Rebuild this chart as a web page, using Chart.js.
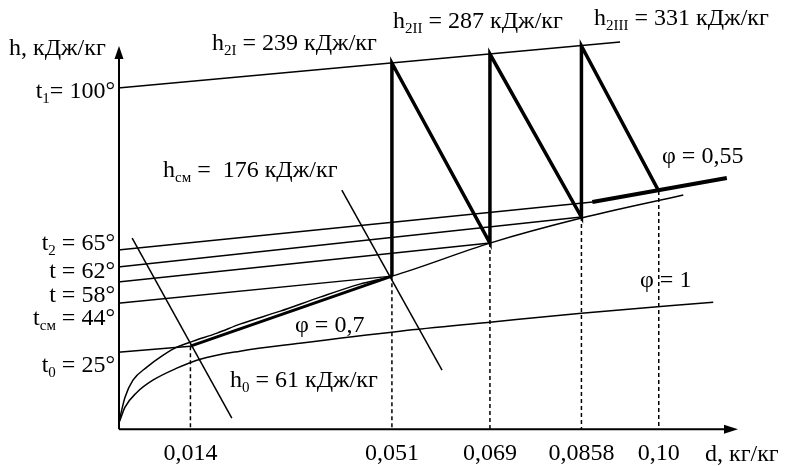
<!DOCTYPE html>
<html>
<head>
<meta charset="utf-8">
<script src="https://cdn.jsdelivr.net/npm/chart.js@4"></script>
<style>
  html, body { margin: 0; padding: 0; background: #fff; }
  #wrap { width: 786px; height: 466px; }
</style>
</head>
<body>
<div id="wrap"><canvas id="hd" width="786" height="466"></canvas></div>
<script>
// d axis (kg/kg), h in the sketch's own (unscaled) units
const dMin = 0.0007;
const dMax = 0.114;
const hMax = 414;

const dTicks = [0.014, 0.051, 0.069, 0.0858, 0.10];
const dTickLabels = ['0,014', '0,051', '0,069', '0,0858', '0,10'];

// phi curves
const upperCurveD = [0.0007, 0.00107, 0.00199, 0.00345, 0.0060, 0.0090, 0.0115, 0.0145, 0.0189, 0.0231, 0.0305, 0.0378, 0.0451, 0.051, 0.069, 0.0858, 0.1045];
const upperCurveH = [4, 12, 32, 49, 62, 74, 82, 88, 96, 105, 118, 132, 145, 153, 186, 211, 234];
const lowerCurveD = [0.0007, 0.00107, 0.00199, 0.0042, 0.0071, 0.0115, 0.0158, 0.0231, 0.0341, 0.0525, 0.069, 0.0858, 0.110];
const lowerCurveH = [4, 9, 22, 37, 49, 61, 70, 78, 86, 98, 107, 116, 127];

// isotherms t1, t2, 62, 58, t_sm, t0 (start at the h axis)
const isothermStartH = [341, 179, 162, 147, 126, 77];
const isothermEndD = [0.0929, 0.0879, 0.0858, 0.069, 0.051, 0.014];
const isothermEndH = [387, 227, 212, 186, 153, 83];

// enthalpy lines h0 and h_sm
const enthalpyD = [[0.0033, 0.0216], [0.0418, 0.0602]];
const enthalpyH = [[191, 11], [239, 59]];

// mixing and heating / humidifying process
const mixD = [0.014, 0.051];
const mixH = [83, 153];
const processD = [0.051, 0.051, 0.069, 0.069, 0.0858, 0.0858, 0.10];
const processH = [153, 366, 186, 375, 212, 383, 238];
const phi55D = [0.0878, 0.1125];
const phi55H = [227, 251];

// dashed drops to the d axis
const dropH = [83, 153, 186, 212, 238];

const pts = (xs, ys) => xs.map((x, i) => ({ x: x, y: ys[i] }));

const SERIF = '"Liberation Serif", "Times New Roman", serif';

function line(data, width, extra) {
  return Object.assign({
    data: data,
    showLine: true,
    borderColor: '#000',
    borderWidth: width,
    pointRadius: 0,
    fill: false
  }, extra || {});
}

const datasets = [];
isothermStartH.forEach((h, i) => {
  datasets.push(line(pts([dMin, isothermEndD[i]], [h, isothermEndH[i]]), 1.5));
});
datasets.push(line(pts(upperCurveD, upperCurveH), 1.5, { cubicInterpolationMode: 'monotone' }));
datasets.push(line(pts(lowerCurveD, lowerCurveH), 1.5, { cubicInterpolationMode: 'monotone' }));
enthalpyD.forEach((ds, i) => datasets.push(line(pts(ds, enthalpyH[i]), 1.5)));

const dropData = [];
dTicks.forEach((d, i) => {
  dropData.push({ x: d, y: dropH[i] }, { x: d, y: 0 }, { x: d, y: null });
});
datasets.push(line(dropData, 1.5, { borderDash: [4, 3], spanGaps: false }));

datasets.push(line(pts(mixD, mixH), 3));
datasets.push(line(pts(processD, processH), 3.5, { borderJoinStyle: 'miter' }));
datasets.push(line(pts(phi55D, phi55H), 4));

// texts: [text, isSub]
const labels = [
  { x: 9, y: 55, parts: [['h, кДж/кг']] },
  { x: 212, y: 50, parts: [['h'], ['2I', 1], [' = 239 кДж/кг']] },
  { x: 393, y: 28, parts: [['h'], ['2II', 1], [' = 287 кДж/кг']] },
  { x: 594, y: 25, parts: [['h'], ['2III', 1], [' = 331 кДж/кг']] },
  { x: 115, y: 98, right: true, parts: [['t'], ['1', 1], ['= 100°']] },
  { x: 163, y: 177, parts: [['h'], ['см', 1], [' =  176 кДж/кг']] },
  { x: 662, y: 163, parts: [['φ = 0,55']] },
  { x: 115, y: 250, right: true, parts: [['t'], ['2', 1], [' = 65°']] },
  { x: 115, y: 278, right: true, parts: [['t = 62°']] },
  { x: 115, y: 302, right: true, parts: [['t = 58°']] },
  { x: 115, y: 325, right: true, parts: [['t'], ['см', 1], [' = 44°']] },
  { x: 115, y: 372, right: true, parts: [['t'], ['0', 1], [' = 25°']] },
  { x: 295, y: 332, parts: [['φ = 0,7']] },
  { x: 640, y: 287, parts: [['φ = 1']] },
  { x: 230, y: 387, parts: [['h'], ['0', 1], [' = 61 кДж/кг']] },
  { x: 705, y: 461, parts: [['d, кг/кг']] }
];

const sketchPlugin = {
  id: 'sketch',
  afterDraw(chart) {
    const ctx = chart.ctx;
    const xs = chart.scales.x, ys = chart.scales.y;
    const ox = xs.getPixelForValue(dMin) + 1;
    const oy = ys.getPixelForValue(0);
    const yTop = ys.getPixelForValue(381);
    const xEnd = xs.getPixelForValue(dMax);
    ctx.save();
    ctx.strokeStyle = '#000';
    ctx.fillStyle = '#000';
    ctx.lineWidth = 2;
    ctx.beginPath();
    ctx.moveTo(ox, oy);
    ctx.lineTo(ox, yTop + 8);
    ctx.moveTo(ox, oy);
    ctx.lineTo(xEnd - 8, oy);
    ctx.stroke();
    ctx.beginPath();
    ctx.moveTo(ox, yTop - 2);
    ctx.lineTo(ox - 4.5, yTop + 11);
    ctx.lineTo(ox + 4.5, yTop + 11);
    ctx.closePath();
    ctx.fill();
    ctx.beginPath();
    ctx.moveTo(xEnd + 3, oy);
    ctx.lineTo(xEnd - 11, oy - 4.5);
    ctx.lineTo(xEnd - 11, oy + 4.5);
    ctx.closePath();
    ctx.fill();

    ctx.textBaseline = 'alphabetic';
    ctx.textAlign = 'left';
    const mainFont = '24px ' + SERIF;
    const subFont = '15px ' + SERIF;
    labels.forEach(lb => {
      let w = 0;
      lb.parts.forEach(p => {
        ctx.font = p[1] ? subFont : mainFont;
        w += ctx.measureText(p[0]).width;
      });
      let x = lb.right ? lb.x - w : lb.x;
      lb.parts.forEach(p => {
        ctx.font = p[1] ? subFont : mainFont;
        ctx.fillText(p[0], x, p[1] ? lb.y + 5 : lb.y);
        x += ctx.measureText(p[0]).width;
      });
    });
    ctx.restore();
  }
};

new Chart(document.getElementById('hd'), {
  type: 'scatter',
  data: { datasets: datasets },
  options: {
    responsive: false,
    animation: false,
    devicePixelRatio: 1,
    layout: { padding: { left: 118, right: 51, top: 15, bottom: -12 } },
    plugins: { legend: { display: false }, tooltip: { enabled: false } },
    scales: {
      x: {
        type: 'linear',
        min: dMin,
        max: dMax,
        grid: { display: false, drawTicks: false },
        border: { display: false },
        afterBuildTicks: axis => { axis.ticks = dTicks.map(v => ({ value: v })); },
        ticks: {
          autoSkip: false,
          maxRotation: 0,
          padding: 10,
          color: '#000',
          font: { family: SERIF, size: 24 },
          callback: v => dTickLabels[dTicks.indexOf(v)]
        }
      },
      y: { type: 'linear', min: 0, max: hMax, display: false }
    }
  },
  plugins: [sketchPlugin]
});
</script>
</body>
</html>
